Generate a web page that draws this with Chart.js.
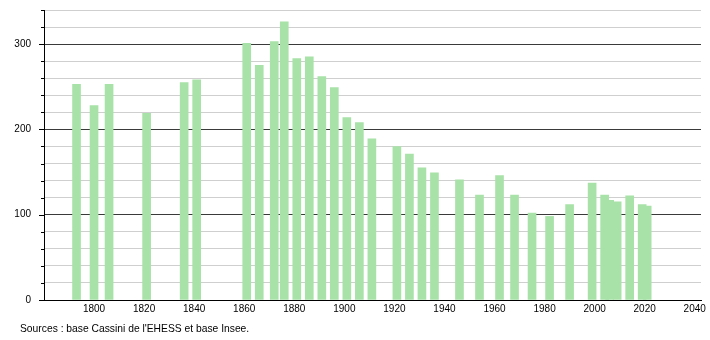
<!DOCTYPE html>
<html>
<head>
<meta charset="utf-8">
<script src="https://cdn.jsdelivr.net/npm/chart.js@4"></script>
<style>
  html, body { margin: 0; padding: 0; background: #fff; }
  #wrap { position: relative; width: 710px; height: 340px; }
  #source { position: absolute; left: 20px; top: 323px; font: 10.3px "Liberation Sans", Arial, sans-serif; color: #000; }
</style>
</head>
<body>
<div id="wrap">
  <canvas id="chart" width="710" height="340"></canvas>
  <div id="source">Sources : base Cassini de l'EHESS et base Insee.</div>
</div>
<script>
// census years and population counts
const years = [1793, 1800, 1806, 1821, 1836, 1841, 1861, 1866, 1872, 1876, 1881, 1886, 1891, 1896,
  1901, 1906, 1911, 1921, 1926, 1931, 1936, 1946, 1954, 1962, 1968, 1975, 1982, 1990, 1999,
  2004, 2006, 2009, 2014, 2019, 2021];
const population = [253, 228, 253, 219, 255, 258, 301, 275, 303, 326, 283, 285, 262, 249,
  214, 208, 189, 180, 171, 155, 149, 141, 123, 146, 123, 102, 98, 112, 137,
  123, 117, 115, 122, 112, 110];
const xTickLabels = [1800, 1820, 1840, 1860, 1880, 1900, 1920, 1940, 1960, 1980, 2000, 2020, 2040];
const yTickLabels = [0, 100, 200, 300];

const font = { family: '"Liberation Sans", Arial, sans-serif', size: 10 };

// small tick marks on the left of the y axis (longer ones at labelled values)
const yTickMarks = {
  id: 'yTickMarks',
  afterDraw(chart) {
    const ctx = chart.ctx;
    const y = chart.scales.y;
    const left = chart.chartArea.left;
    ctx.save();
    ctx.strokeStyle = '#000';
    ctx.lineWidth = 1;
    y.ticks.forEach(t => {
      const py = Math.round(y.getPixelForValue(t.value)) + 0.5;
      const len = yTickLabels.includes(t.value) ? 5 : 3;
      ctx.beginPath();
      ctx.moveTo(left - len, py);
      ctx.lineTo(left, py);
      ctx.stroke();
    });
    ctx.restore();
  }
};

new Chart(document.getElementById('chart'), {
  type: 'bar',
  data: {
    datasets: [{
      data: years.map((yr, i) => ({ x: yr, y: population[i] })),
      backgroundColor: 'rgb(168,226,168)',
      borderWidth: 0,
      barThickness: 8
    }]
  },
  options: {
    responsive: false,
    animation: false,
    layout: { padding: { left: 0, right: 9, top: 10, bottom: 0 } },
    plugins: { legend: { display: false }, tooltip: { enabled: false } },
    scales: {
      x: {
        type: 'linear',
        offset: false,
        min: 1780,
        max: 2042.5,
        afterFit: s => { s.height = 40; },
        grid: { display: false, drawTicks: false, offset: false },
        border: { display: true, color: '#000', width: 1 },
        ticks: {
          stepSize: 20,
          includeBounds: false,
          autoSkip: false,
          maxRotation: 0,
          padding: 3,
          color: '#000',
          font: font,
          callback: v => xTickLabels.includes(v) ? String(v) : ''
        }
      },
      y: {
        min: 0,
        max: 340,
        afterFit: s => { s.width = 44; s.paddingTop = 0; s.paddingBottom = 0; },
        grid: {
          drawTicks: false,
          color: c => (c.tick && c.tick.value % 100 === 0) ? '#3a3a3a' : '#cfcfcf',
          lineWidth: 1
        },
        border: { display: true, color: '#000', width: 1 },
        ticks: {
          stepSize: 20,
          autoSkip: false,
          padding: 13,
          color: '#000',
          font: font,
          callback: v => yTickLabels.includes(v) ? String(v) : ''
        }
      }
    }
  },
  plugins: [yTickMarks]
});
</script>
</body>
</html>
